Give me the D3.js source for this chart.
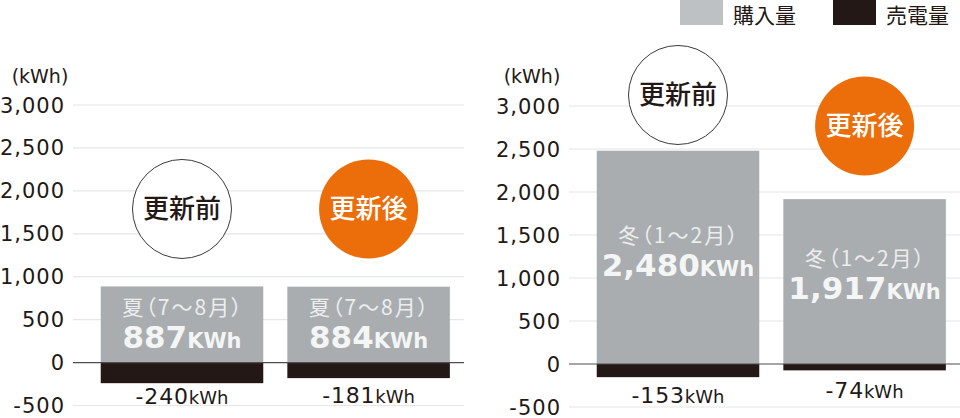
<!DOCTYPE html>
<html><head><meta charset="utf-8">
<script src="https://cdn.jsdelivr.net/npm/d3@7"></script>
<style>
html,body{margin:0;padding:0;background:#fff;}
svg{display:block;}
</style></head>
<body>
<svg id="c" width="960" height="418"></svg>
<script>
// ---- data ----
const categories = ["更新前", "更新後"];
const seasons = ["夏（7〜8月）", "冬（1〜2月）"];
const summerPurchase = [887, 884];
const summerSold = [-240, -181];
const winterPurchase = [2480, 1917];
const winterSold = [-153, -74];
const yTicks = [3000, 2500, 2000, 1500, 1000, 500, 0, -500];
const legendLabels = ["購入量", "売電量"];

// ---- styles ----
const GRAY = "#a9adb0", BLACK = "#231815", ORANGE = "#eb6e0a", LEG_GRAY = "#bec1c3";
const NUM = "'DejaVu Sans', sans-serif", JP = "'Noto Sans CJK JP', sans-serif";
const svg = d3.select("#c");
const fmt = v => d3.format(",")(v).replace("\u2212", "-");

const charts = [
  { season: seasons[0], buy: summerPurchase, sell: summerSold,
    yRange: [405.5, 105], gridX: [73, 464], band: [88.7, 461.9], tickX: 65, unitX: 40,
    circleAt: [1789, 1789], labelAt: [635, 635], belowAt: [-484, -476] },
  { season: seasons[1], buy: winterPurchase, sell: winterSold,
    yRange: [407, 106], gridX: [569, 960], band: [584.7, 957.9], tickX: 561, unitX: 532,
    circleAt: [3128, 2767], labelAt: [1488, 1221], belowAt: [-453, -395] }
];

charts.forEach(c => {
  const y = d3.scaleLinear().domain([-500, 3000]).range(c.yRange);
  const x = d3.scaleBand().domain(categories).range(c.band).paddingInner(0.129).paddingOuter(0.0645);
  const g = svg.append("g");

  // grid
  g.selectAll("line.grid").data(yTicks.filter(t => t !== 0)).join("line")
    .attr("x1", c.gridX[0]).attr("x2", c.gridX[1])
    .attr("y1", d => y(d)).attr("y2", d => y(d))
    .attr("stroke", "#e6e6e6").attr("stroke-width", 1.2);

  // tick labels
  g.selectAll("text.tick").data(yTicks).join("text")
    .attr("x", c.tickX).attr("y", d => y(d)).attr("dy", "0.36em")
    .attr("text-anchor", "end").attr("font-family", NUM).attr("font-size", 21)
    .attr("letter-spacing", "1").attr("fill", "#231815")
    .text(d => fmt(d));
  g.append("text").attr("x", c.unitX).attr("y", 83).attr("text-anchor", "middle")
    .attr("font-family", NUM).attr("font-size", 19).attr("fill", "#231815").text("(kWh)");

  // bars
  g.selectAll("rect.buy").data(c.buy).join("rect")
    .attr("x", (d, i) => x(categories[i])).attr("width", x.bandwidth())
    .attr("y", d => y(d)).attr("height", d => y(0) - y(d)).attr("fill", GRAY);
  g.selectAll("rect.sell").data(c.sell).join("rect")
    .attr("x", (d, i) => x(categories[i])).attr("width", x.bandwidth())
    .attr("y", y(0)).attr("height", d => y(d) - y(0)).attr("fill", BLACK);

  // zero line
  g.append("line").attr("x1", c.gridX[0]).attr("x2", c.gridX[1])
    .attr("y1", y(0)).attr("y2", y(0)).attr("stroke", "#4d4d4d").attr("stroke-width", 1.2);

  // labels inside bars
  c.buy.forEach((v, i) => {
    const cx = x(categories[i]) + x.bandwidth() / 2;
    const ly = y(c.labelAt[i]);
    g.append("text").attr("x", cx + 1).attr("y", ly + 7).attr("text-anchor", "middle")
      .attr("font-family", JP).attr("font-size", 21).style("font-feature-settings", "'palt'")
      .attr("letter-spacing", "2").attr("fill", "#eceeee").text(c.season);
    const t = g.append("text").attr("x", cx).attr("y", ly + 40).attr("text-anchor", "middle")
      .attr("font-family", NUM).attr("font-weight", "bold").attr("fill", "#f4f5f5");
    t.append("tspan").attr("font-size", 31).text(fmt(v));
    t.append("tspan").attr("font-size", 21).text("KWh");
  });

  // labels below
  c.sell.forEach((v, i) => {
    const cx = x(categories[i]) + x.bandwidth() / 2;
    const t = g.append("text").attr("x", cx).attr("y", y(c.belowAt[i])).attr("text-anchor", "middle")
      .attr("font-family", NUM).attr("fill", "#231815");
    t.append("tspan").attr("font-size", 22).attr("letter-spacing", "0.8").text(fmt(v));
    t.append("tspan").attr("font-size", 18).text("kWh");
  });

  // circles
  categories.forEach((cat, i) => {
    const cx = x(cat) + x.bandwidth() / 2;
    const cy = y(c.circleAt[i]);
    g.append("circle").attr("cx", cx).attr("cy", cy).attr("r", 49.5)
      .attr("fill", i === 0 ? "#fff" : ORANGE)
      .attr("stroke", i === 0 ? "#3a3a3a" : "none").attr("stroke-width", 1);
    g.append("text").attr("x", cx).attr("y", cy + 9).attr("text-anchor", "middle")
      .attr("font-family", JP).attr("font-size", 26).attr("font-weight", 500)
      .attr("fill", i === 0 ? "#231815" : "#fff").text(cat);
  });
});

// legend
const leg = svg.append("g");
const legX = [680, 833];
legendLabels.forEach((l, i) => {
  leg.append("rect").attr("x", legX[i]).attr("y", 0).attr("width", 43).attr("height", 25)
    .attr("fill", i === 0 ? LEG_GRAY : BLACK);
  leg.append("text").attr("x", legX[i] + 53).attr("y", 23).attr("font-family", JP)
    .attr("font-size", 21).attr("fill", "#231815").text(l);
});
</script>
</body></html>
